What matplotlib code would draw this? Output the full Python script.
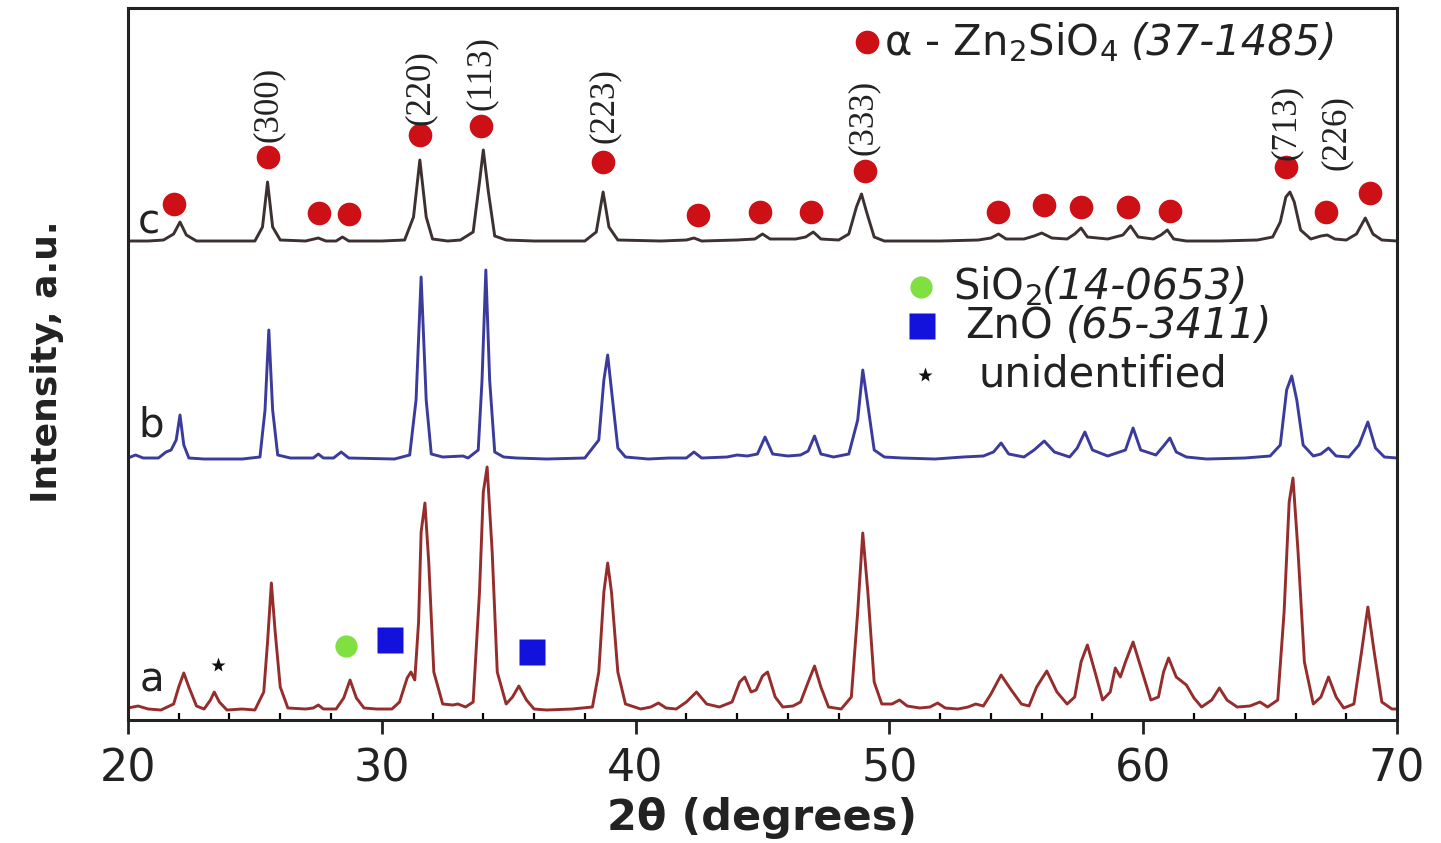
import matplotlib
matplotlib.use('Agg')
import matplotlib.pyplot as plt
from matplotlib.ticker import MultipleLocator
import numpy as np

plt.rcParams['font.family'] = 'DejaVu Sans'
plt.rcParams['mathtext.fontset'] = 'custom'
plt.rcParams['mathtext.rm'] = 'DejaVu Sans'

# traced XRD patterns: (2theta, intensity above own baseline), a.u.
pattern_a = [
    (20.0, 4), (20.4, 6), (20.8, 3), (21.3, 2), (21.8, 8), (22.0, 25), (22.2, 39), (22.4, 25),
    (22.7, 6), (23.0, 3), (23.25, 12), (23.4, 20), (23.6, 10), (23.9, 2), (24.5, 3), (25.0, 2),
    (25.35, 20), (25.5, 70), (25.65, 129), (25.8, 80), (26.0, 25), (26.3, 4), (27.0, 3), (27.3, 4),
    (27.5, 7), (27.7, 3), (28.2, 3), (28.5, 14), (28.75, 32), (29.0, 14), (29.3, 4), (29.8, 3),
    (30.4, 3), (30.7, 10), (31.0, 34), (31.15, 40), (31.3, 32), (31.45, 90), (31.55, 180),
    (31.7, 209), (31.85, 150), (32.05, 40), (32.4, 8), (32.8, 7), (33.0, 8), (33.3, 5), (33.6, 10),
    (33.85, 120), (34.0, 220), (34.15, 245), (34.35, 160), (34.55, 40), (34.9, 8), (35.15, 15),
    (35.4, 26), (35.7, 12), (36.0, 3), (36.5, 2), (37.5, 3), (38.3, 5), (38.55, 40), (38.75, 120),
    (38.9, 149), (39.05, 120), (39.3, 40), (39.6, 8), (40.2, 3), (40.6, 5), (40.9, 9), (41.2, 4),
    (41.6, 3), (42.0, 10), (42.4, 20), (42.8, 8), (43.3, 5), (43.8, 10), (44.1, 30), (44.3, 35),
    (44.55, 20), (44.75, 22), (45.0, 36), (45.2, 40), (45.5, 15), (45.8, 5), (46.2, 6), (46.5, 10),
    (46.8, 30), (47.05, 46), (47.3, 25), (47.6, 5), (48.1, 3), (48.5, 15), (48.75, 100),
    (48.95, 179), (49.15, 120), (49.4, 30), (49.7, 8), (50.1, 8), (50.4, 12), (50.7, 6), (51.2, 4),
    (51.6, 5), (51.9, 9), (52.2, 4), (52.7, 3), (53.1, 5), (53.4, 8), (53.7, 6), (54.0, 18),
    (54.4, 37), (54.8, 22), (55.2, 8), (55.5, 6), (55.8, 25), (56.2, 41), (56.6, 20), (57.0, 8),
    (57.3, 15), (57.55, 50), (57.8, 67), (58.1, 40), (58.4, 12), (58.7, 20), (58.9, 44), (59.1, 35),
    (59.3, 50), (59.6, 70), (59.9, 45), (60.3, 12), (60.6, 15), (60.8, 40), (61.0, 54), (61.3, 35),
    (61.7, 27), (62.0, 14), (62.3, 5), (62.7, 12), (63.0, 24), (63.3, 12), (63.7, 5), (64.2, 6),
    (64.6, 10), (64.9, 5), (65.3, 12), (65.55, 100), (65.75, 210), (65.9, 234), (66.1, 160),
    (66.35, 50), (66.7, 8), (67.0, 15), (67.3, 35), (67.6, 15), (67.9, 4), (68.3, 8), (68.6, 60),
    (68.85, 105), (69.1, 60), (69.4, 10), (69.8, 3), (70.0, 3),
]
pattern_b = [
    (20.0, 2), (20.3, 5), (20.6, 2), (21.2, 2), (21.5, 8), (21.7, 10), (21.9, 20), (22.05, 45),
    (22.2, 15), (22.4, 2), (23.0, 1), (24.5, 1), (25.2, 3), (25.4, 50), (25.55, 130), (25.7, 50),
    (25.9, 5), (26.4, 2), (27.3, 2), (27.5, 6), (27.7, 2), (28.1, 2), (28.4, 8), (28.7, 2),
    (30.5, 1), (31.1, 5), (31.35, 60), (31.55, 183), (31.75, 60), (31.95, 6), (32.4, 3), (33.2, 4),
    (33.4, 2), (33.8, 10), (33.95, 80), (34.1, 190), (34.25, 80), (34.45, 8), (34.8, 3), (35.3, 2),
    (36.5, 1), (38.0, 2), (38.55, 20), (38.75, 80), (38.9, 105), (39.05, 70), (39.3, 12),
    (39.6, 3), (40.5, 1), (41.3, 2), (42.0, 2), (42.3, 8), (42.6, 2), (43.6, 3), (44.0, 5),
    (44.4, 4), (44.8, 6), (45.1, 23), (45.4, 6), (46.0, 4), (46.5, 5), (46.8, 9), (47.05, 24),
    (47.3, 6), (47.8, 3), (48.4, 6), (48.75, 40), (48.95, 90), (49.15, 55), (49.4, 10), (49.8, 3),
    (50.5, 2), (51.8, 1), (52.9, 3), (53.7, 4), (54.1, 8), (54.4, 17), (54.7, 6), (55.3, 3),
    (55.7, 10), (56.1, 19), (56.5, 8), (57.1, 3), (57.4, 12), (57.7, 28), (58.0, 10), (58.6, 4),
    (59.3, 10), (59.6, 32), (59.9, 10), (60.5, 5), (60.8, 14), (61.05, 22), (61.3, 8), (61.7, 3),
    (62.5, 1), (64.0, 2), (65.0, 4), (65.4, 15), (65.65, 70), (65.85, 84), (66.05, 60),
    (66.3, 15), (66.7, 4), (67.0, 6), (67.3, 12), (67.6, 4), (68.1, 3), (68.5, 15), (68.85, 38),
    (69.15, 12), (69.5, 3), (70.0, 2),
]
pattern_c = [
    (20.0, 1), (20.8, 1), (21.4, 2), (21.8, 8), (22.05, 20), (22.3, 7), (22.7, 1), (24.0, 1),
    (25.0, 1), (25.3, 15), (25.5, 60), (25.7, 15), (26.0, 2), (27.0, 1), (27.5, 4), (27.8, 1),
    (28.2, 1), (28.45, 5), (28.7, 1), (30.0, 1), (30.9, 2), (31.25, 25), (31.5, 82), (31.75, 25),
    (32.0, 3), (32.6, 1), (33.1, 2), (33.6, 10), (33.85, 60), (34.0, 92), (34.2, 50), (34.45, 6),
    (34.9, 2), (36.0, 1), (38.0, 1), (38.45, 10), (38.72, 50), (38.95, 15), (39.3, 2), (41.0, 1),
    (42.0, 2), (42.3, 4), (42.6, 1), (44.0, 2), (44.7, 3), (45.0, 8), (45.3, 3), (46.3, 3),
    (46.7, 5), (47.0, 10), (47.3, 3), (48.0, 2), (48.4, 8), (48.7, 35), (48.9, 48), (49.1, 30),
    (49.4, 5), (49.8, 1), (52.0, 1), (53.5, 2), (54.0, 4), (54.3, 8), (54.6, 3), (55.3, 3),
    (55.7, 6), (56.0, 9), (56.4, 4), (57.0, 3), (57.3, 8), (57.55, 14), (57.8, 5), (58.6, 3),
    (59.2, 7), (59.5, 16), (59.8, 5), (60.4, 3), (60.7, 7), (60.95, 12), (61.2, 3), (61.7, 1),
    (63.0, 1), (64.5, 2), (65.1, 5), (65.4, 20), (65.62, 45), (65.78, 50), (65.95, 40),
    (66.2, 12), (66.6, 3), (67.0, 6), (67.25, 7), (67.55, 3), (68.0, 2), (68.4, 8), (68.75, 24),
    (69.05, 8), (69.4, 2), (70.0, 1),
]
baselines = {'a': 10, 'b': 262, 'c': 480}
line_colors = {'a': '#962d2d', 'b': '#3b3b9c', 'c': '#3d3030'}

# alpha-Zn2SiO4 reflections marked on pattern c
zn2sio4_x = [21.81, 25.52, 27.53, 28.71, 31.51, 33.92, 38.73, 42.44, 44.92, 46.93,
             49.02, 54.27, 56.08, 57.54, 59.39, 61.05, 65.62, 67.20, 68.94]
zn2sio4_y = [518, 565, 509, 508, 587, 596, 560, 507, 510, 510,
             551, 510, 517, 515, 515, 511, 555, 510, 529]

hkl_labels = ['(300)', '(220)', '(113)', '(223)', '(333)', '(713)', '(226)']
hkl_x = [25.52, 31.51, 33.92, 38.77, 48.98, 65.62, 67.62]
hkl_y = [580, 597, 612, 579, 567, 562, 552]

# secondary phases on pattern a
sio2_x, sio2_y = [28.6], [76]
zno_x, zno_y = [30.33, 35.9], [82, 70]
unid_x, unid_y = [23.55], [57]

# key entries: (marker, colour, size, x, y, label, italic part, gap in points)
key_entries = [
    ('o', '#cc1016', 17, 49.1, 680, r'α - Zn$_2$SiO$_4$', '(37-1485)', 9),
    ('o', '#7fe040', 16, 51.23, 435, r'SiO$_2$', '(14-0653)', 0),
    ('s', '#1212dc', 19, 51.3, 396, 'ZnO', '(65-3411)', 9),
    ('*', '#111111', 11, 51.4, 347, 'unidentified', '', 0),
]
key_text_x = [49.8, 52.5, 53.0, 53.5]
key_text_y = [667, 423, 384, 336]

fig = plt.figure(figsize=(14.41, 8.43), dpi=100)
ax = fig.add_axes([0.0888, 0.1459, 0.8807, 0.8446])

for key, pts in [('a', pattern_a), ('b', pattern_b), ('c', pattern_c)]:
    arr = np.array(pts)
    ax.plot(arr[:, 0], arr[:, 1] + baselines[key], color=line_colors[key], lw=2.1,
            solid_joinstyle='round')

red = '#cc1016'
green = '#7fe040'
blue = '#1212dc'

ax.plot(zn2sio4_x, zn2sio4_y, 'o', color=red, ms=17, mec='none')
for lab, x, y in zip(hkl_labels, hkl_x, hkl_y):
    ax.text(x, y, lab, rotation=90, ha='center', va='bottom', fontsize=25,
            family='Liberation Serif', color='#222222')

ax.plot(sio2_x, sio2_y, 'o', color=green, ms=16, mec='none')
ax.plot(zno_x, zno_y, 's', color=blue, ms=19, mec='none')
ax.plot(unid_x, unid_y, '*', color='#111111', ms=11, mec='none')

# curve letters
ax.text(20.4, 500, 'c', fontsize=29, va='center', color='#222222')
ax.text(20.4, 297, 'b', fontsize=29, va='center', color='#222222')
ax.text(20.45, 42, 'a', fontsize=29, va='center', color='#222222')

# in-plot keys
for (mk, col, ms, mx, my, lab, it, gap), tx, ty in zip(key_entries, key_text_x, key_text_y):
    ax.plot([mx], [my], mk, color=col, ms=ms, mec='none')
    t1 = ax.text(tx, ty, lab, fontsize=30, va='baseline', color='#222222')
    if it:
        ax.annotate(it, xy=(1, ty), xycoords=(t1, 'data'), xytext=(gap, 0),
                    textcoords='offset points', fontsize=30, style='italic',
                    va='baseline', ha='left', color='#222222')

ax.set_xlim(20, 70)
ax.set_ylim(2, 714)
ax.xaxis.set_major_locator(MultipleLocator(10))
ax.xaxis.set_minor_locator(MultipleLocator(2))
ax.tick_params(axis='x', which='major', direction='out', length=10, width=2,
               labelsize=32, pad=10, colors='#222222')
ax.tick_params(axis='x', which='minor', direction='in', length=5, width=1.6)
ax.set_yticks([])
for sp in ax.spines.values():
    sp.set_linewidth(2.2)
    sp.set_color('#222222')

ax.set_xlabel('2θ (degrees)', fontsize=31, fontweight='bold', color='#222222')
ax.xaxis.set_label_coords(0.5, -0.1376)
ax.xaxis.label.set_verticalalignment('center')
ax.set_ylabel('Intensity, a.u.', fontsize=26, fontweight='bold', color='#222222')
ax.yaxis.set_label_coords(-0.0638, 0.503)
ax.yaxis.label.set_verticalalignment('center')

fig.savefig('out.png', dpi=100)
